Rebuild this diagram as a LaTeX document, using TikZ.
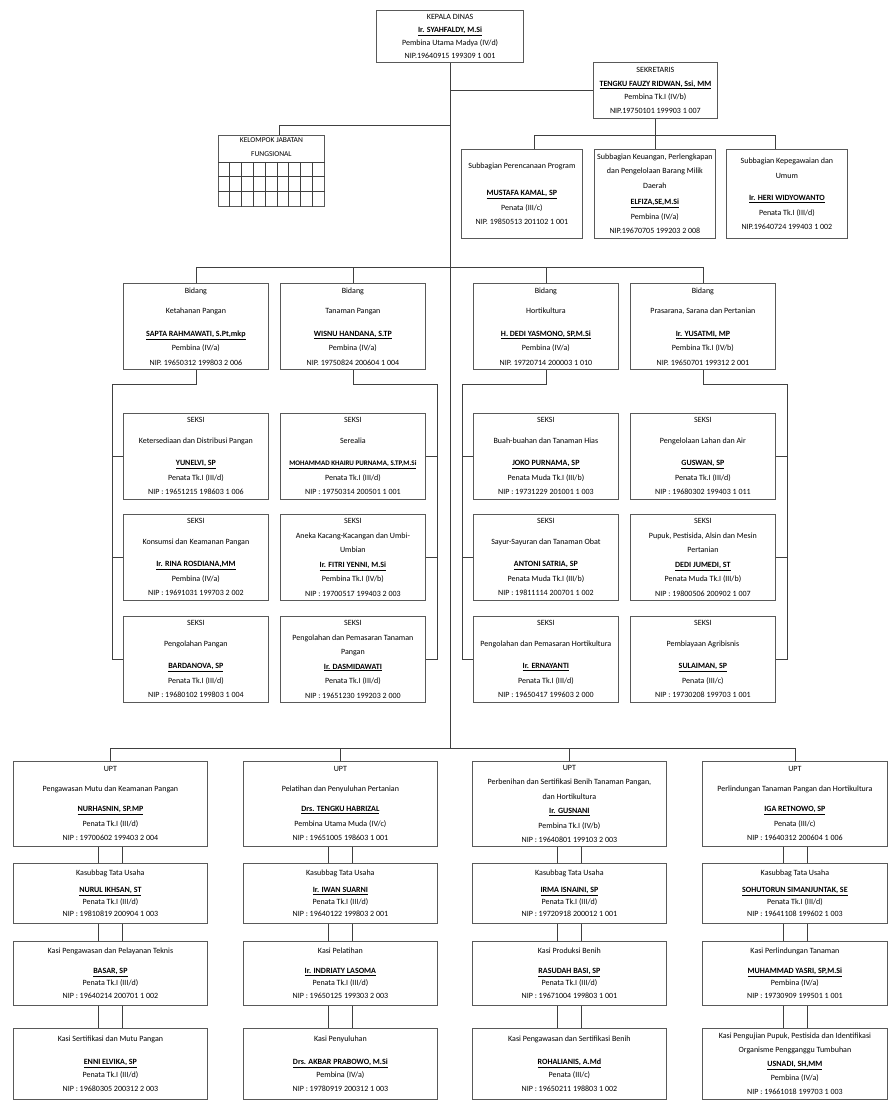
\documentclass[tikz,border=0pt]{standalone}
\usepackage{fontspec}
\setmainfont{Carlito}
\usetikzlibrary{positioning}
\newcommand{\pejabat}[3]{\textbf{\underline{#1}}\\#2\\#3}
\begin{document}
\begin{tikzpicture}[x=1pt, y=-1pt,
    garis/.style={draw=black!75, line width=0.7pt},
    kotak/.style={draw=black!65, line width=0.8pt, anchor=north west, align=center, inner sep=1pt, font=\fontsize{8}{14.5}\selectfont},
    kolom/.style={kotak, minimum width=145pt, minimum height=86pt},
    subbag/.style={kotak, minimum width=121pt, minimum height=89pt},
    upta/.style={kotak, minimum width=194pt, minimum height=85pt},
    uptb/.style={upta, minimum height=60pt, font=\fontsize{8}{12}\selectfont},
    uptc/.style={upta, minimum height=64pt, font=\fontsize{8}{12.5}\selectfont},
    uptd/.style={upta, minimum height=71pt, font=\fontsize{8}{13.5}\selectfont},
    sempit/.style={minimum width=185pt}]
  \useasboundingbox (0,0) rectangle (889,1102);

  \coordinate (buskjf) at (0,125);
  \coordinate (bussub) at (0,135);
  \coordinate (busbid) at (0,267);
  \coordinate (busupt) at (0,748);

  \node (kadis) [kotak, minimum width=147pt, minimum height=52pt, line width=1.2pt, font=\fontsize{8}{13}\selectfont] at (376,10) {KEPALA DINAS\\\pejabat{Ir. SYAHFALDY, M.Si}{Pembina Utama Madya (IV/d)}{NIP.19640915 199309 1 001}};
  \node (sekre) [kotak, minimum width=124pt, minimum height=56pt, font=\fontsize{8}{13.5}\selectfont] at (593,62) {SEKRETARIS\\\pejabat{TENGKU FAUZY RIDWAN, Ssi, MM}{Pembina Tk.I (IV/b)}{NIP.19750101 199903 1 007}};

  \node (kjf) [kotak, minimum width=106pt, minimum height=71pt] at (218,135) {};
  \node (kjfteks) [below=1pt of kjf.north, align=center, inner sep=1pt, font=\fontsize{7.5}{14}\selectfont] {KELOMPOK JABATAN\\FUNGSIONAL};
  \foreach \r in {27,41.7,56.3}
    \draw [garis] ([yshift=-\r pt]kjf.north west) -- ([yshift=-\r pt]kjf.north east);
  \foreach \c in {1,...,8}
    \draw [garis] ([xshift=\c*11.78pt, yshift=-27pt]kjf.north west) -- ([xshift=\c*11.78pt]kjf.south west);

  \node (sub1) [subbag] at (461,149) {Subbagian Perencanaan Program\\[13pt]\pejabat{MUSTAFA KAMAL, SP}{Penata (III/c)}{NIP. 19850513 201102 1 001}};
  \node (sub2) [subbag] at (594,149) {Subbagian Keuangan, Perlengkapan\\dan Pengelolaan Barang Milik\\Daerah\\[2pt]\pejabat{ELFIZA,SE,M.Si}{Pembina (IV/a)}{NIP.19670705 199203 2 008}};
  \node (sub3) [subbag] at (726,149) {Subbagian Kepegawaian dan\\Umum\\[8pt]\pejabat{Ir. HERI WIDYOWANTO}{Penata Tk.I (III/d)}{NIP.19640724 199403 1 002}};

  \node (bid1) [kolom] at (123,283) {Bidang\\[6pt]Ketahanan Pangan\\[8pt]\pejabat{SAPTA RAHMAWATI, S.Pt,mkp}{Pembina (IV/a)}{NIP. 19650312 199803 2 006}};
  \node (bid2) [kolom] at (280,283) {Bidang\\[6pt]Tanaman Pangan\\[8pt]\pejabat{WISNU HANDANA, S.TP}{Pembina (IV/a)}{NIP. 19750824 200604 1 004}};
  \node (bid3) [kolom] at (473,283) {Bidang\\[6pt]Hortikultura\\[8pt]\pejabat{H. DEDI YASMONO, SP,M.Si}{Pembina (IV/a)}{NIP. 19720714 200003 1 010}};
  \node (bid4) [kolom] at (630,283) {Bidang\\[6pt]Prasarana, Sarana dan Pertanian\\[8pt]\pejabat{Ir. YUSATMI, MP}{Pembina Tk.I (IV/b)}{NIP. 19650701 199312 2 001}};

  \node (sk11) [kolom] at (123,413) {SEKSI\\[6pt]Ketersediaan dan Distribusi Pangan\\[8pt]\pejabat{YUNELVI, SP}{Penata Tk.I (III/d)}{NIP : 19651215 198603 1 006}};
  \node (sk12) [kolom] at (123,514) {SEKSI\\[6pt]Konsumsi dan Keamanan Pangan\\[8pt]\pejabat{Ir. RINA ROSDIANA,MM}{Pembina (IV/a)}{NIP : 19691031 199703 2 002}};
  \node (sk13) [kolom] at (123,616) {SEKSI\\[6pt]Pengolahan Pangan\\[8pt]\pejabat{BARDANOVA, SP}{Penata Tk.I (III/d)}{NIP : 19680102 199803 1 004}};

  \node (sk21) [kolom] at (280,413) {SEKSI\\[6pt]Serealia\\[8pt]\pejabat{\fontsize{7}{14.5}\selectfont MOHAMMAD KHAIRU PURNAMA, S.TP,M.Si}{Penata Tk.I (III/d)}{NIP : 19750314 200501 1 001}};
  \node (sk22) [kolom] at (280,514) {SEKSI\\Aneka Kacang-Kacangan dan Umbi-\\Umbian\\\pejabat{Ir. FITRI YENNI, M.Si}{Pembina Tk.I (IV/b)}{NIP : 19700517 199403 2 003}};
  \node (sk23) [kolom] at (280,616) {SEKSI\\Pengolahan dan Pemasaran Tanaman\\Pangan\\\pejabat{Ir. DASMIDAWATI}{Penata Tk.I (III/d)}{NIP : 19651230 199203 2 000}};

  \node (sk31) [kolom] at (473,413) {SEKSI\\[6pt]Buah-buahan dan Tanaman Hias\\[8pt]\pejabat{JOKO PURNAMA, SP}{Penata Muda Tk.I (III/b)}{NIP : 19731229 201001 1 003}};
  \node (sk32) [kolom] at (473,514) {SEKSI\\[6pt]Sayur-Sayuran dan Tanaman Obat\\[8pt]\pejabat{ANTONI SATRIA, SP}{Penata Muda Tk.I (III/b)}{NIP : 19811114 200701 1 002}};
  \node (sk33) [kolom] at (473,616) {SEKSI\\[6pt]Pengolahan dan Pemasaran Hortikultura\\[8pt]\pejabat{Ir. ERNAYANTI}{Penata Tk.I (III/d)}{NIP : 19650417 199603 2 000}};

  \node (sk41) [kolom] at (630,413) {SEKSI\\[6pt]Pengelolaan Lahan dan Air\\[8pt]\pejabat{GUSWAN, SP}{Penata Tk.I (III/d)}{NIP : 19680302 199403 1 011}};
  \node (sk42) [kolom] at (630,514) {SEKSI\\Pupuk, Pestisida, Alsin dan Mesin\\Pertanian\\\pejabat{DEDI JUMEDI, ST}{Penata Muda Tk.I (III/b)}{NIP : 19800506 200902 1 007}};
  \node (sk43) [kolom] at (630,616) {SEKSI\\[6pt]Pembiayaan Agribisnis\\[8pt]\pejabat{SULAIMAN, SP}{Penata (III/c)}{NIP : 19730208 199703 1 001}};

  \node (upt1) [upta] at (13,761) {UPT\\[5.5pt]Pengawasan Mutu dan Keamanan Pangan\\[5.5pt]\pejabat{NURHASNIN, SP.MP}{Penata Tk.I (III/d)}{NIP : 19700602 199403 2 004}};
  \node (tu1) [uptb] at (13,863) {Kasubbag Tata Usaha\\[5pt]\pejabat{NURUL IKHSAN, ST}{Penata Tk.I (III/d)}{NIP : 19810819 200904 1 003}};
  \node (ksa1) [uptc] at (13,941) {Kasi Pengawasan dan Pelayanan Teknis\\[7pt]\pejabat{BASAR, SP}{Penata Tk.I (III/d)}{NIP : 19640214 200701 1 002}};
  \node (ksb1) [uptd] at (13,1028) {Kasi Sertifikasi dan Mutu Pangan\\[9pt]\pejabat{ENNI ELVIKA, SP}{Penata Tk.I (III/d)}{NIP : 19680305 200312 2 003}};

  \node (upt2) [upta] at (243,761) {UPT\\[5.5pt]Pelatihan dan Penyuluhan Pertanian\\[5.5pt]\pejabat{Drs. TENGKU HABRIZAL}{Pembina Utama Muda (IV/c)}{NIP : 19651005 198603 1 001}};
  \node (tu2) [uptb] at (243,863) {Kasubbag Tata Usaha\\[5pt]\pejabat{Ir. IWAN SUARNI}{Penata Tk.I (III/d)}{NIP : 19640122 199803 2 001}};
  \node (ksa2) [uptc] at (243,941) {Kasi Pelatihan\\[7pt]\pejabat{Ir. INDRIATY LASOMA}{Penata Tk.I (III/d)}{NIP : 19650125 199303 2 003}};
  \node (ksb2) [uptd] at (243,1028) {Kasi Penyuluhan\\[9pt]\pejabat{Drs. AKBAR PRABOWO, M.Si}{Pembina (IV/a)}{NIP : 19780919 200312 1 003}};

  \node (upt3) [upta] at (472,761) {UPT\\Perbenihan dan Sertifikasi Benih Tanaman Pangan,\\dan Hortikultura\\\pejabat{Ir. GUSNANI}{Pembina Tk.I (IV/b)}{NIP : 19640801 199103 2 003}};
  \node (tu3) [uptb] at (472,863) {Kasubbag Tata Usaha\\[5pt]\pejabat{IRMA ISNAINI, SP}{Penata Tk.I (III/d)}{NIP : 19720918 200012 1 001}};
  \node (ksa3) [uptc] at (472,941) {Kasi Produksi Benih\\[7pt]\pejabat{RASUDAH BASI, SP}{Penata Tk.I (III/d)}{NIP : 19671004 199803 1 001}};
  \node (ksb3) [uptd] at (472,1028) {Kasi Pengawasan dan Sertifikasi Benih\\[9pt]\pejabat{ROHALIANIS, A.Md}{Penata (III/c)}{NIP : 19650211 198803 1 002}};

  \node (upt4) [upta, sempit] at (702,761) {UPT\\[5.5pt]Perlindungan Tanaman Pangan dan Hortikultura\\[5.5pt]\pejabat{IGA RETNOWO, SP}{Penata (III/c)}{NIP : 19640312 200604 1 006}};
  \node (tu4) [uptb, sempit] at (702,863) {Kasubbag Tata Usaha\\[5pt]\pejabat{SOHUTORUN SIMANJUNTAK, SE}{Penata Tk.I (III/d)}{NIP : 19641108 199602 1 003}};
  \node (ksa4) [uptc, sempit] at (702,941) {Kasi Perlindungan Tanaman\\[7pt]\pejabat{MUHAMMAD YASRI, SP,M.Si}{Pembina (IV/a)}{NIP : 19730909 199501 1 001}};
  \node (ksb4) [uptd, sempit, font=\fontsize{8}{14}\selectfont] at (702,1028) {Kasi Pengujian Pupuk, Pestisida dan Identifikasi\\Organisme Pengganggu Tumbuhan\\\pejabat{USNADI, SH,MM}{Pembina (IV/a)}{NIP : 19661018 199703 1 003}};

  \coordinate (rel1) at (112,384);
  \coordinate (rel2) at (437,384);
  \coordinate (rel3) at (462,384);
  \coordinate (rel4) at (787,384);

  \draw [garis] (kadis.south) -- (kadis.south |- busupt);
  \draw [garis] (kadis.south |- sekre.west) -- (sekre.west);
  \draw [garis] (kadis.south |- buskjf) -| ([xshift=8pt]kjf.north);
  \draw [garis] (sekre.south) -- (sekre.south |- bussub);
  \draw [garis] ([xshift=12pt]sub1.north) |- ([xshift=-12pt]sub3.north |- bussub) -- ([xshift=-12pt]sub3.north);
  \draw [garis] (sub2.north) -- (sub2.north |- bussub);

  \draw [garis] (bid1.north) |- (bid4.north |- busbid) -- (bid4.north);
  \draw [garis] (bid2.north) -- (bid2.north |- busbid);
  \draw [garis] (bid3.north) -- (bid3.north |- busbid);

  \draw [garis] (bid1.south) |- (rel1) |- (sk13.west);
  \draw [garis] (rel1 |- sk11.west) -- (sk11.west);
  \draw [garis] (rel1 |- sk12.west) -- (sk12.west);
  \draw [garis] (bid2.south) |- (rel2) |- (sk23.east);
  \draw [garis] (rel2 |- sk21.east) -- (sk21.east);
  \draw [garis] (rel2 |- sk22.east) -- (sk22.east);
  \draw [garis] (bid3.south) |- (rel3) |- (sk33.west);
  \draw [garis] (rel3 |- sk31.west) -- (sk31.west);
  \draw [garis] (rel3 |- sk32.west) -- (sk32.west);
  \draw [garis] (bid4.south) |- (rel4) |- (sk43.east);
  \draw [garis] (rel4 |- sk41.east) -- (sk41.east);
  \draw [garis] (rel4 |- sk42.east) -- (sk42.east);

  \draw [garis] (upt1.north) |- (upt4.north |- busupt) -- (upt4.north);
  \draw [garis] (upt2.north) -- (upt2.north |- busupt);
  \draw [garis] (upt3.north) -- (upt3.north |- busupt);
  \foreach \k in {1,...,4}
    \foreach \atas/\bawah in {upt/tu, tu/ksa, ksa/ksb}{
      \draw [garis] ([xshift=-12pt]\atas\k.south) -- ([xshift=-12pt]\bawah\k.north);
      \draw [garis] ([xshift=12pt]\atas\k.south) -- ([xshift=12pt]\bawah\k.north);
    }
\end{tikzpicture}
\end{document}
